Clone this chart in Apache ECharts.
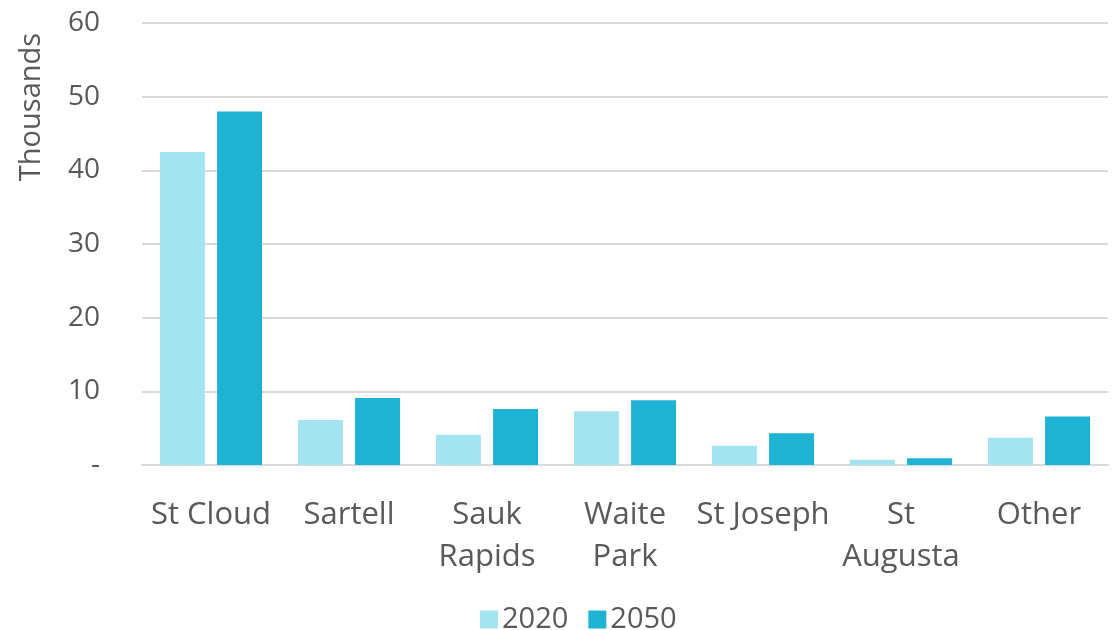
<!DOCTYPE html>
<html>
<head>
<meta charset="utf-8">
<script src="https://cdn.jsdelivr.net/npm/echarts@6/dist/echarts.min.js"></script>
<style>
  html, body { margin: 0; padding: 0; background: #fff; }
  #chart { width: 1119px; height: 630px; }
</style>
</head>
<body>
<div id="chart"></div>
<script>
// place names (thousands of people)
var categories = ['St Cloud', 'Sartell', 'Sauk\nRapids', 'Waite\nPark', 'St Joseph', 'St\nAugusta', 'Other'];
var seriesNames = ['2020', '2050'];
var values2020 = [42.5, 6.1, 4.1, 7.3, 2.6, 0.7, 3.7];
var values2050 = [48.0, 9.1, 7.6, 8.8, 4.3, 0.9, 6.6];
var yTicks = [0, 10, 20, 30, 40, 50, 60];

var textColor = '#595959';
var font = '"Open Sans", "Noto Sans", sans-serif';

var chart = echarts.init(document.getElementById('chart'));
chart.setOption({
  animation: false,
  color: ['#A3E4F0', '#1EB3D4'],
  grid: { left: 142, right: 11, top: 23, bottom: 165 },
  legend: {
    data: seriesNames,
    left: 475,
    top: 600,
    itemWidth: 18,
    itemHeight: 18,
    itemGap: 20,
    icon: 'rect',
    textStyle: { color: textColor, fontSize: 29, fontFamily: font, padding: [0, 0, 0, -1] }
  },
  graphic: [{
    type: 'text',
    x: 32,
    y: 107,
    rotation: Math.PI / 2,
    style: {
      text: 'Thousands',
      fill: textColor,
      font: '29px ' + font,
      textAlign: 'center',
      textVerticalAlign: 'middle'
    }
  }],
  xAxis: {
    type: 'category',
    data: categories,
    axisTick: { show: false },
    axisLine: { lineStyle: { color: '#D9D9D9', width: 2 } },
    axisLabel: {
      color: textColor,
      fontSize: 31,
      fontFamily: font,
      margin: 29,
      lineHeight: 42,
      interval: 0
    }
  },
  yAxis: {
    type: 'value',
    min: yTicks[0],
    max: yTicks[yTicks.length - 1],
    interval: 10,
    axisLine: { show: false },
    axisTick: { show: false },
    splitLine: { lineStyle: { color: '#D9D9D9', width: 2 } },
    axisLabel: {
      color: textColor,
      fontSize: 28,
      fontFamily: font,
      margin: 42,
      formatter: function (v) { return v === 0 ? '-' : v; }
    }
  },
  series: [
    { name: seriesNames[0], type: 'bar', data: values2020, barWidth: '32.6%', barGap: '27%' },
    { name: seriesNames[1], type: 'bar', data: values2050, barWidth: '32.6%', barGap: '27%' }
  ]
});
</script>
</body>
</html>
